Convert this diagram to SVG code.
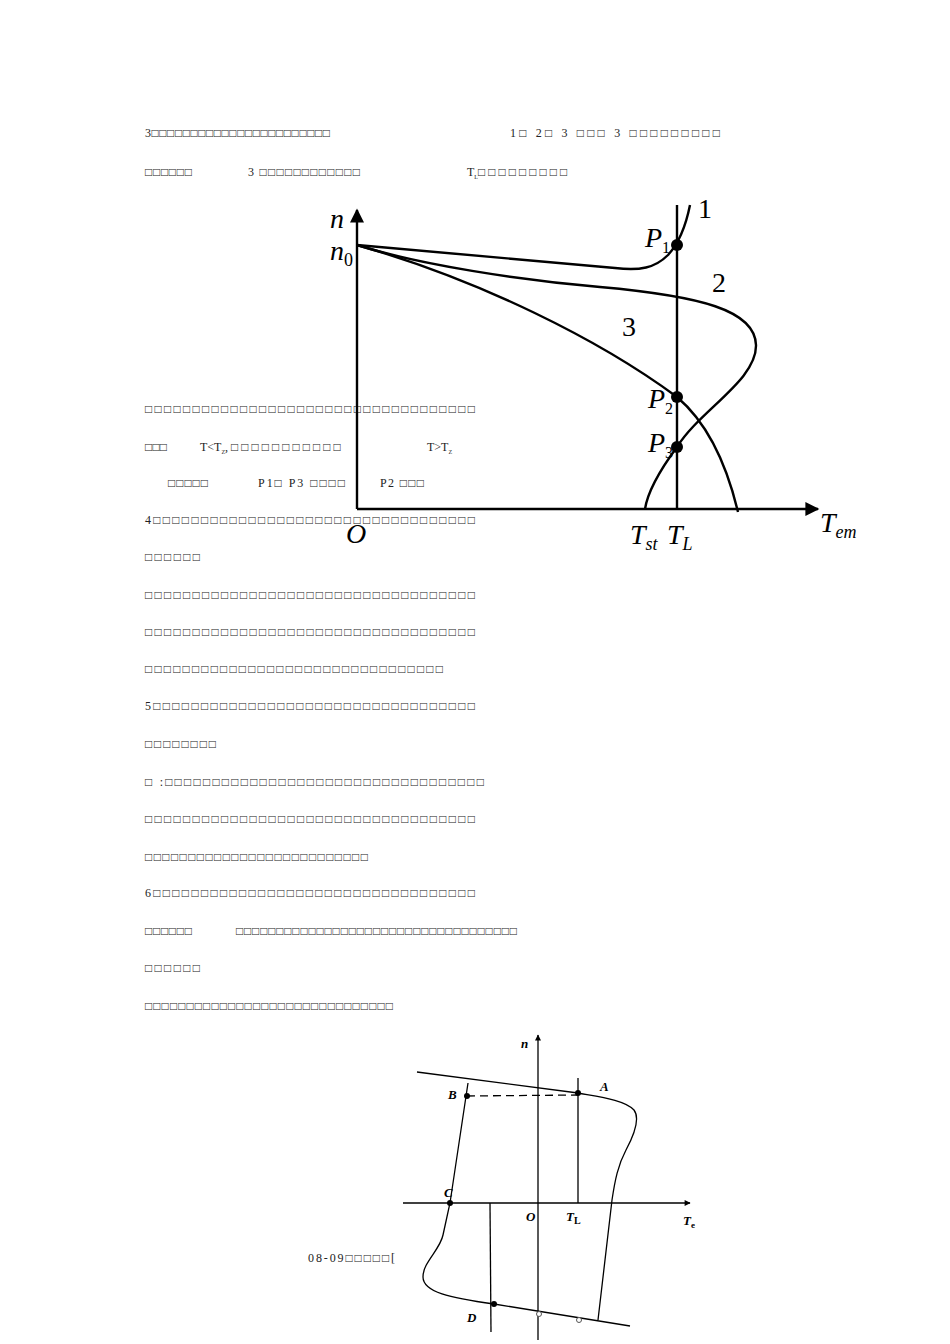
<svg xmlns="http://www.w3.org/2000/svg" width="950" height="1344" viewBox="0 0 950 1344">
<style>
.t{font-family:"Liberation Serif","DejaVu Serif",serif;font-size:12px;fill:#222}
.c{fill:none;stroke:#000;stroke-width:2.4}
.c2{fill:none;stroke:#000;stroke-width:1.3}
.l{font-family:"Liberation Serif",serif;font-style:italic;font-size:28px}
.u{font-family:"Liberation Serif",serif;font-size:28px}
.l2{font-family:"Liberation Serif",serif;font-style:italic;font-weight:bold;font-size:13px}
</style>
<defs>
<marker id="ar" viewBox="0 0 10 10" refX="9" refY="5" markerWidth="8" markerHeight="6" orient="auto" markerUnits="userSpaceOnUse"><path d="M0,0L10,5L0,10z"/></marker>
<marker id="ab" viewBox="0 0 10 10" refX="9" refY="5" markerWidth="22" markerHeight="14" orient="auto" markerUnits="userSpaceOnUse"><path d="M0,0L10,5L0,10z"/></marker>
</defs>
<rect width="950" height="1344" fill="#fff"/>
<g id="text">
<text class="t" x="145" y="137" textLength="185" lengthAdjust="spacing">3□□□□□□□□□□□□□□□□□□□□□□□</text>
<text class="t" x="510" y="137" textLength="210" lengthAdjust="spacing">1□ 2□ 3 □□□   3 □□□□□□□□□</text>
<text class="t" x="145" y="176" textLength="47" lengthAdjust="spacing">□□□□□□</text>
<text class="t" x="248" y="176" textLength="112" lengthAdjust="spacing">3 □□□□□□□□□□□□</text>
<text class="t" x="467" y="176">T<tspan font-size="6" dy="3">L</tspan><tspan dy="-3" letter-spacing="3">□□□□□□□□□</tspan></text>
<text class="t" x="145" y="413" textLength="330" lengthAdjust="spacing">□□□□□□□□□□□□□□□□□□□□□□□□□□□□□□□□□□□</text>
<text class="t" x="145" y="451" textLength="22" lengthAdjust="spacing">□□□</text>
<text class="t" x="200" y="451">T&lt;T<tspan font-size="6" dy="3">Z</tspan><tspan dy="-3" letter-spacing="3">,□□□□□□□□□□□</tspan></text>
<text class="t" x="427" y="451">T&gt;T<tspan font-size="6" dy="3">Z</tspan></text>
<text class="t" x="168" y="487" textLength="40" lengthAdjust="spacing">□□□□□</text>
<text class="t" x="258" y="487" textLength="87" lengthAdjust="spacing">P1□ P3 □□□□</text>
<text class="t" x="380" y="487" textLength="44" lengthAdjust="spacing">P2 □□□</text>
<text class="t" x="145" y="524" textLength="330" lengthAdjust="spacing">4□□□□□□□□□□□□□□□□□□□□□□□□□□□□□□□□□□</text>
<text class="t" x="145" y="561" textLength="55" lengthAdjust="spacing">□□□□□□</text>
<text class="t" x="145" y="599" textLength="330" lengthAdjust="spacing">□□□□□□□□□□□□□□□□□□□□□□□□□□□□□□□□□□□</text>
<text class="t" x="145" y="636" textLength="330" lengthAdjust="spacing">□□□□□□□□□□□□□□□□□□□□□□□□□□□□□□□□□□□</text>
<text class="t" x="145" y="673" textLength="298" lengthAdjust="spacing">□□□□□□□□□□□□□□□□□□□□□□□□□□□□□□□□</text>
<text class="t" x="145" y="710" textLength="330" lengthAdjust="spacing">5□□□□□□□□□□□□□□□□□□□□□□□□□□□□□□□□□□</text>
<text class="t" x="145" y="748" textLength="71" lengthAdjust="spacing">□□□□□□□□</text>
<text class="t" x="145" y="786" textLength="339" lengthAdjust="spacing">□ :□□□□□□□□□□□□□□□□□□□□□□□□□□□□□□□□□□</text>
<text class="t" x="145" y="823" textLength="330" lengthAdjust="spacing">□□□□□□□□□□□□□□□□□□□□□□□□□□□□□□□□□□□</text>
<text class="t" x="145" y="861" textLength="223" lengthAdjust="spacing">□□□□□□□□□□□□□□□□□□□□□□□□□□</text>
<text class="t" x="145" y="897" textLength="330" lengthAdjust="spacing">6□□□□□□□□□□□□□□□□□□□□□□□□□□□□□□□□□□</text>
<text class="t" x="145" y="935" textLength="47" lengthAdjust="spacing">□□□□□□</text>
<text class="t" x="236" y="935" textLength="281" lengthAdjust="spacing">□□□□□□□□□□□□□□□□□□□□□□□□□□□□□□□□□□□</text>
<text class="t" x="145" y="972" textLength="55" lengthAdjust="spacing">□□□□□□</text>
<text class="t" x="145" y="1010" textLength="248" lengthAdjust="spacing">□□□□□□□□□□□□□□□□□□□□□□□□□□□□□□</text>
<text class="t" x="308" y="1262" textLength="87" lengthAdjust="spacing">08-09□□□□□[</text>
</g>
<g id="graph1">
<line class="c" x1="357" y1="509" x2="357" y2="210" marker-end="url(#ab)"/>
<line class="c" x1="357" y1="509" x2="818" y2="509" marker-end="url(#ab)"/>
<line class="c" x1="677" y1="205" x2="677" y2="509"/>
<path class="c" d="M357,245 L615,268 C640,271 655,268 668,255 C680,242 686,225 690,205"/>
<path class="c" d="M357,245 C420,265 520,280 600,287 C700,296 755,310 756,345 C757,380 700,410 677,447 C660,470 648,490 645,509"/>
<path class="c" d="M357,245 C480,280 600,340 677,397 C710,425 728,470 738,512"/>
<circle cx="677" cy="245" r="6"/><circle cx="677" cy="397" r="6"/><circle cx="677" cy="447" r="6"/>
<text class="l" x="330" y="228">n</text>
<text class="l" x="330" y="260">n<tspan font-size="18" style="font-style:normal" dy="6">0</tspan></text>
<text class="l" x="346" y="543">O</text>
<text class="l" x="645" y="247">P<tspan font-size="16" style="font-style:normal" dy="6">1</tspan></text>
<text class="l" x="648" y="408">P<tspan font-size="16" style="font-style:normal" dy="6">2</tspan></text>
<text class="l" x="648" y="452">P<tspan font-size="16" style="font-style:normal" dy="6">3</tspan></text>
<text class="u" x="698" y="218">1</text>
<text class="u" x="712" y="292">2</text>
<text class="u" x="622" y="336">3</text>
<text class="l" x="630" y="544">T<tspan font-size="18" dy="6">st</tspan></text>
<text class="l" x="667" y="544">T<tspan font-size="18" dy="6">L</tspan></text>
<text class="l" x="820" y="532">T<tspan font-size="18" dy="6">em</tspan></text>
</g>
<g id="graph2">
<line class="c2" x1="403" y1="1203" x2="690" y2="1203" stroke-width="2" marker-end="url(#ar)"/>
<line class="c2" x1="538" y1="1340" x2="538" y2="1035" stroke-width="2" marker-end="url(#ar)"/>
<path class="c2" d="M417,1072 L578,1093 C600,1097 625,1100 634,1110 C640,1118 634,1135 626,1150 C618,1165 615,1180 612,1200 L598,1320"/>
<path class="c2" d="M630,1326 L494,1304 C450,1298 423,1292 423,1277 C423,1262 440,1250 443,1235 L450,1203 L468,1083"/>
<line class="c2" x1="467" y1="1096" x2="578" y2="1095" stroke-dasharray="8,5" stroke-width="2"/>
<line class="c2" x1="578" y1="1078" x2="578" y2="1203"/>
<line class="c2" x1="490" y1="1203" x2="491" y2="1332"/>
<circle cx="467" cy="1096" r="3"/><circle cx="578" cy="1093" r="3"/><circle cx="450" cy="1203" r="3"/><circle cx="494" cy="1304" r="3"/>
<circle cx="539" cy="1314" r="2.5" fill="#fff" stroke="#555"/><circle cx="579" cy="1320" r="2.5" fill="#fff" stroke="#555"/>
<text class="l2" x="521" y="1048">n</text>
<text class="l2" x="600" y="1091">A</text>
<text class="l2" x="448" y="1099">B</text>
<text class="l2" x="444" y="1197">C</text>
<text class="l2" x="526" y="1221">O</text>
<text class="l2" x="566" y="1221">T<tspan font-size="10" style="font-style:normal" dy="3">L</tspan></text>
<text class="l2" x="683" y="1225">T<tspan font-size="9" style="font-style:normal" dy="3">e</tspan></text>
<text class="l2" x="467" y="1322">D</text>
</g>
</svg>
